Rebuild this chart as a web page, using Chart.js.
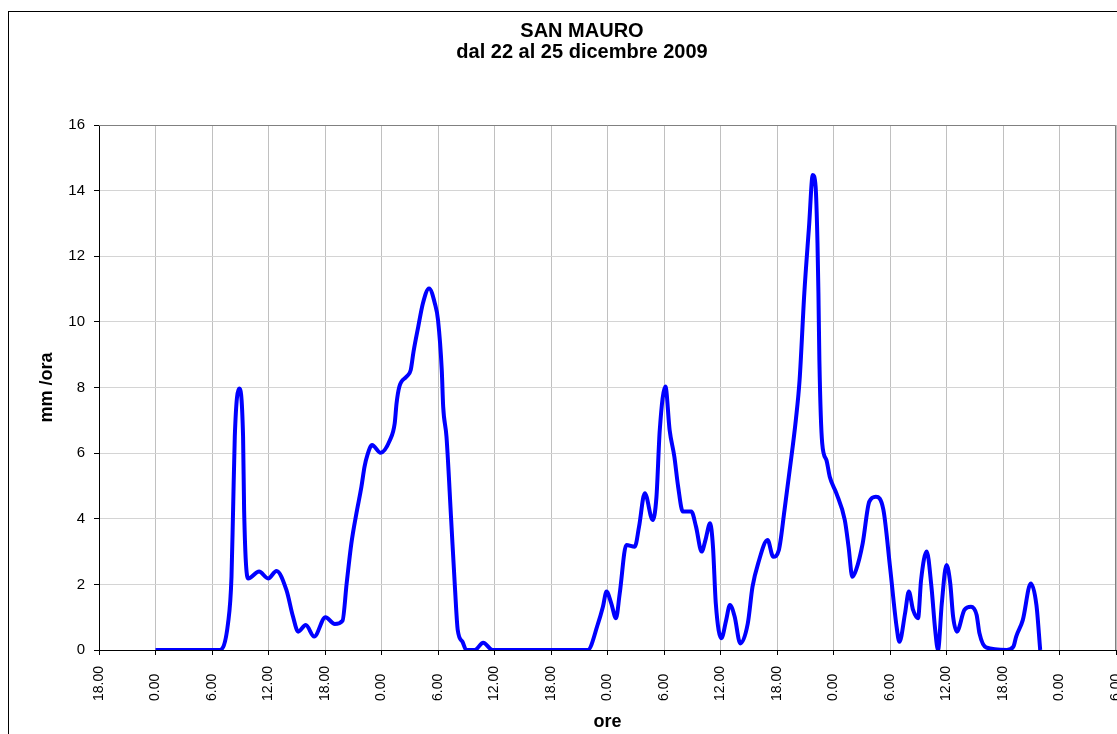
<!DOCTYPE html>
<html>
<head>
<meta charset="utf-8">
<script src="https://cdn.jsdelivr.net/npm/chart.js"></script>
<style>
  body { margin: 0; background: #fff; overflow: hidden; }
  #box {
    position: absolute;
    left: 8px;
    top: 11px;
    width: 1146px;
    height: 780px;
    border: 1px solid #000;
  }
</style>
</head>
<body>
<div id="box">
  <canvas id="chart-1" width="1146" height="760"></canvas>
</div>
<script>
// ore dalla mezzanotte del 22 dicembre
const hours = [
  0, 6.8, 7.7, 8.07, 8.24, 8.42, 8.88, 9.3, 9.41, 9.84,
  11.0, 11.96, 12.85, 13.9, 14.6, 15.15, 15.96, 16.85, 18.05, 19.04,
  19.86, 20.3, 20.8, 21.34, 21.87, 22.2, 22.5, 23.0, 23.9, 24.9,
  25.4, 25.6, 25.9, 26.65, 27.1, 27.4, 27.9, 28.4, 29.05, 29.66,
  30.0, 30.4, 30.55, 30.9, 31.4, 31.8, 32.1, 32.6, 33.0, 33.9,
  34.8, 35.8, 45.9, 47.0, 47.5, 47.9, 48.4, 48.9, 49.3, 50.0,
  50.9, 51.35, 51.96, 52.8, 53.2, 53.55, 54.15, 54.6, 55.1, 55.5,
  56.0, 56.9, 57.4, 58.0, 58.4, 58.9, 59.2, 59.5, 60.1, 60.6,
  61.0, 61.5, 62.1, 62.9, 63.4, 64.0, 65.0, 65.6, 66.2, 66.8,
  67.35, 68.0, 68.4, 68.9, 69.4, 69.8, 70.1, 70.3, 70.4, 70.5,
  70.8, 71.25, 71.6, 72.3, 73.2, 73.6, 74.0, 74.4, 75.1, 75.8,
  76.5, 77.3, 78.0, 78.7, 79.0, 79.6, 80.0, 80.45, 80.98, 81.3,
  81.9, 82.4, 82.8, 83.1, 83.5, 84.0, 84.4, 84.7, 85.1, 85.9,
  86.6, 87.2, 87.5, 88.2, 90.4, 91.1, 91.4, 92.1, 92.95, 93.55,
  93.95
];

// pioggia mm/ora
const mmOra = [
  0, 0, 0.81, 2.23, 4.27, 6.5, 7.97, 6.5, 4.27, 2.18,
  2.39, 2.18, 2.41, 1.83, 1.02, 0.56, 0.76, 0.41, 1.0, 0.79,
  0.89, 2.03, 3.25, 4.17, 4.98, 5.59, 5.94, 6.25, 6.01, 6.4,
  6.9, 7.52, 8.03, 8.33, 8.53, 9.09, 9.85, 10.57, 11.02, 10.57,
  10.06, 8.53, 7.42, 6.5, 3.96, 1.9, 0.6, 0.25, 0, 0,
  0.22, 0, 0, 0.81, 1.3, 1.78, 1.42, 0.97, 1.73, 3.2,
  3.15, 3.76, 4.78, 3.96, 4.67, 6.7, 8.03, 6.7, 5.89, 4.98,
  4.22, 4.22, 3.76, 3.0, 3.35, 3.86, 3.15, 1.42, 0.36, 0.91,
  1.37, 1.02, 0.2, 0.81, 1.93, 2.64, 3.35, 2.84, 3.05, 4.27,
  5.49, 7.01, 8.23, 10.87, 12.9, 14.48, 14.12, 12.4, 10.87, 8.84,
  6.3, 5.79, 5.28, 4.78, 3.96, 3.15, 2.23, 2.44, 3.25, 4.52,
  4.67, 4.27, 2.54, 0.71, 0.25, 1.12, 1.78, 1.22, 0.97, 2.13,
  3.0, 1.93, 0.61, 0, 1.42, 2.59, 2.03, 1.02, 0.56, 1.22,
  1.32, 1.07, 0.51, 0.08, 0, 0.1, 0.41, 0.91, 2.03, 1.37,
  0
];

const xTickLabels = [
  '18.00', '0.00', '6.00', '12.00', '18.00', '0.00', '6.00', '12.00', '18.00', '0.00',
  '6.00', '12.00', '18.00', '0.00', '6.00', '12.00', '18.00', '0.00', '6.00'
];
const yTicks = [0, 2, 4, 6, 8, 10, 12, 14, 16];

const points = hours.map(function (h, i) {
  return { x: h, y: mmOra[i] };
});

// bordo grigio dell'area del grafico (sopra e a destra)
const plotFrame = {
  id: 'plotFrame',
  beforeDatasetsDraw: function (chart) {
    const a = chart.chartArea;
    const c = chart.ctx;
    c.save();
    c.strokeStyle = '#808080';
    c.lineWidth = 1;
    c.beginPath();
    c.moveTo(a.left, a.top + 0.5);
    c.lineTo(a.right - 0.5, a.top + 0.5);
    c.lineTo(a.right - 0.5, a.bottom);
    c.stroke();
    c.restore();
  }
};

const ctx1 = document.getElementById('chart-1');

new Chart(ctx1, {
  type: 'line',
  data: {
    datasets: [{
      data: points,
      borderColor: '#0000ff',
      borderWidth: 4,
      pointRadius: 0,
      fill: false,
      cubicInterpolationMode: 'monotone'
    }]
  },
  options: {
    responsive: false,
    animation: false,
    layout: {
      padding: { left: 0, right: 0, top: 0, bottom: 22 }
    },
    plugins: {
      legend: { display: false },
      tooltip: { enabled: false },
      title: {
        display: true,
        text: ['SAN MAURO', 'dal 22 al 25 dicembre 2009'],
        color: '#000',
        font: { family: 'Liberation Sans', size: 20, weight: 'bold', lineHeight: 1.05 },
        padding: { top: 8.5, bottom: 62.5 }
      }
    },
    scales: {
      x: {
        type: 'linear',
        min: -6,
        max: 102,
        afterFit: function (scale) { scale.height = 100; },
        afterBuildTicks: function (scale) {
          scale.ticks = xTickLabels.map(function (lab, i) { return { value: -6 + i * 6 }; });
        },
        ticks: {
          autoSkip: false,
          maxRotation: 90,
          minRotation: 90,
          padding: 11,
          color: '#000',
          font: { family: 'Liberation Sans', size: 14 },
          // etichette corte allineate in basso come in Excel (uno spazio = mezza cifra)
          callback: function (value, index) {
            const lab = xTickLabels[index];
            return lab.length < 5 ? lab + '  ' : lab;
          }
        },
        grid: {
          color: '#c0c0c0',
          lineWidth: 1,
          tickLength: 5,
          tickColor: '#000'
        },
        border: { color: '#000', width: 1 },
        title: {
          display: true,
          text: 'ore',
          color: '#000',
          font: { family: 'Liberation Sans', size: 18, weight: 'bold' },
          padding: { top: 0, bottom: 17 }
        }
      },
      y: {
        min: 0,
        max: 16,
        afterFit: function (scale) { scale.width = 90; },
        afterBuildTicks: function (scale) {
          scale.ticks = yTicks.map(function (v) { return { value: v }; });
        },
        ticks: {
          padding: 9,
          color: '#000',
          font: { family: 'Liberation Sans', size: 15 }
        },
        grid: {
          color: '#d4d4d4',
          lineWidth: 1,
          tickLength: 5,
          tickColor: '#000'
        },
        border: { color: '#000', width: 1 },
        title: {
          display: true,
          text: 'mm /ora',
          color: '#000',
          font: { family: 'Liberation Sans', size: 18, weight: 'bold' },
          padding: { top: 27, bottom: 0 }
        }
      },
      // asse vuoto a destra: solo spazio, cosi' il titolo resta centrato sul riquadro
      yRight: {
        position: 'right',
        afterFit: function (scale) { scale.width = 39; },
        grid: { display: false },
        ticks: { display: false },
        border: { display: false }
      }
    }
  },
  plugins: [plotFrame]
});
</script>
</body>
</html>
